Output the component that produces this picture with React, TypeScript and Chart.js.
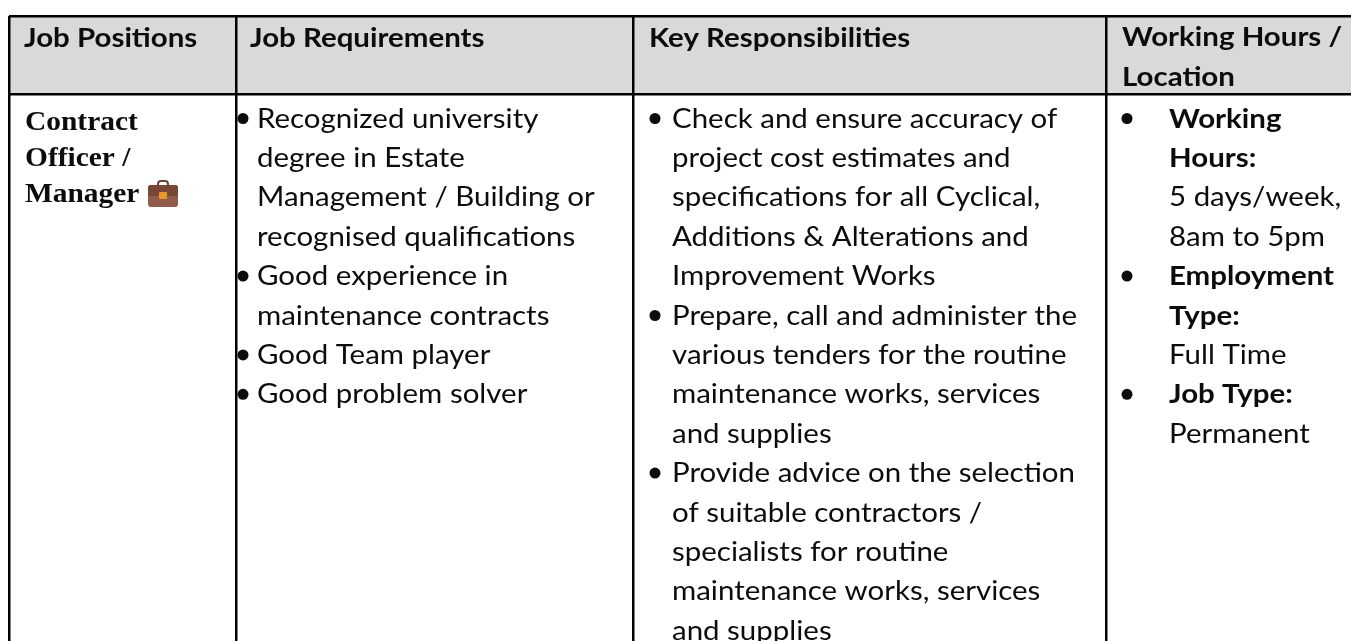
import React, { useEffect, useRef } from "react";
import { Chart, registerables } from "chart.js";

Chart.register(...registerables);

const headerCol1 = ["Job Positions"];
const headerCol2 = ["Job Requirements"];
const headerCol3 = ["Key Responsibilities"];
const headerCol4 = ["Working Hours /", "Location"];

const positions = ["Contract", "Officer /", "Manager"];
const requirements = [
  "Recognized university",
  "degree in Estate",
  "Management / Building or",
  "recognised qualifications",
  "Good experience in",
  "maintenance contracts",
  "Good Team player",
  "Good problem solver",
];
const requirementBullets = [0, 4, 6, 7];
const responsibilities = [
  "Check and ensure accuracy of",
  "project cost estimates and",
  "specifications for all Cyclical,",
  "Additions & Alterations and",
  "Improvement Works",
  "Prepare, call and administer the",
  "various tenders for the routine",
  "maintenance works, services",
  "and supplies",
  "Provide advice on the selection",
  "of suitable contractors /",
  "specialists for routine",
  "maintenance works, services",
  "and supplies",
];
const responsibilityBullets = [0, 5, 9];
const hours = [
  "Working",
  "Hours:",
  "5 days/week,",
  "8am to 5pm",
  "Employment",
  "Type:",
  "Full Time",
  "Job Type:",
  "Permanent",
];
const hoursBold = [0, 1, 4, 5, 7];
const hoursBullets = [0, 4, 7];

const columnEdges = [9, 236, 633, 1106];
const rowEdges = [16, 94.5];

const BODY_BASE = 127.5;
const PITCH = 39.4;
const SANS = "Lato, Carlito, sans-serif";
const SANS_STRETCH = 1.133;
const SERIF_STRETCH = 1.09;

const rowY = (i: number) => BODY_BASE + i * PITCH;

const bulletPoints = [
  ...requirementBullets.map((i) => ({ x: 243, y: rowY(i) - 9 })),
  ...responsibilityBullets.map((i) => ({ x: 655, y: rowY(i) - 9 })),
  ...hoursBullets.map((i) => ({ x: 1127, y: rowY(i) - 9 })),
];

const tablePlugin = {
  id: "tablePlugin",
  beforeDraw(chart: any) {
    const { ctx, scales } = chart;
    const x = scales.x;
    const y = scales.y;
    ctx.save();
    ctx.fillStyle = "#ffffff";
    ctx.fillRect(0, 0, chart.width, chart.height);
    ctx.fillStyle = "#d9d9d9";
    ctx.fillRect(
      x.getPixelForValue(columnEdges[0]),
      y.getPixelForValue(rowEdges[0]),
      x.getPixelForValue(1351) - x.getPixelForValue(columnEdges[0]),
      y.getPixelForValue(rowEdges[1]) - y.getPixelForValue(rowEdges[0]),
    );
    ctx.restore();
  },
  afterDatasetsDraw(chart: any) {
    const { ctx, scales } = chart;
    const x = scales.x;
    const y = scales.y;
    const put = (t: string, px: number, py: number, font: string, stretch: number) => {
      ctx.save();
      ctx.font = font;
      ctx.translate(x.getPixelForValue(px), y.getPixelForValue(py));
      ctx.scale(stretch, 1);
      ctx.fillText(t, 0, 0);
      ctx.restore();
    };
    ctx.save();
    ctx.fillStyle = "#0c0c0c";
    ctx.textBaseline = "alphabetic";
    ctx.textAlign = "left";
    const headFont = `bold 26px ${SANS}`;
    const bodyFont = `26px ${SANS}`;
    put(headerCol1[0], 24, 46.5, headFont, SANS_STRETCH);
    put(headerCol2[0], 250, 46.5, headFont, SANS_STRETCH);
    put(headerCol3[0], 649, 46.5, headFont, SANS_STRETCH);
    headerCol4.forEach((t, i) => put(t, 1122, 46 + i * 40, headFont, SANS_STRETCH));

    const serif = `bold 27px "Liberation Serif", serif`;
    positions.forEach((t, i) => put(t, 25, 130 + i * 36, serif, SERIF_STRETCH));

    requirements.forEach((t, i) => put(t, 257, rowY(i), bodyFont, SANS_STRETCH));
    responsibilities.forEach((t, i) => put(t, 672, rowY(i), bodyFont, SANS_STRETCH));
    hours.forEach((t, i) =>
      put(t, 1169, rowY(i), hoursBold.includes(i) ? headFont : bodyFont, SANS_STRETCH),
    );

    // briefcase icon after "Manager"
    const bx = x.getPixelForValue(148);
    const by = y.getPixelForValue(180);
    ctx.strokeStyle = "#6f4334";
    ctx.lineWidth = 2;
    ctx.beginPath();
    ctx.roundRect(bx + 10, by + 1, 10, 7, 3);
    ctx.stroke();
    ctx.fillStyle = "#915c49";
    ctx.beginPath();
    ctx.roundRect(bx, by + 5, 30, 22, 3);
    ctx.fill();
    ctx.fillStyle = "#764636";
    ctx.beginPath();
    ctx.roundRect(bx, by + 5, 30, 11, 3);
    ctx.fill();
    ctx.fillStyle = "#e8982f";
    ctx.beginPath();
    ctx.roundRect(bx + 11, by + 12, 8, 7, 1);
    ctx.fill();
    ctx.restore();
  },
};

export default function App() {
  const ref = useRef<HTMLCanvasElement>(null);
  useEffect(() => {
    const chart = new Chart(ref.current as HTMLCanvasElement, {
      type: "scatter",
      data: {
        datasets: [
          {
            data: bulletPoints,
            pointRadius: 5.5,
            pointBackgroundColor: "#0c0c0c",
            pointBorderWidth: 0,
            showLine: false,
          },
        ],
      },
      options: {
        animation: false,
        responsive: false,
        events: [],
        layout: { autoPadding: false, padding: { left: 9, top: 16, right: 0, bottom: 0 } },
        plugins: { legend: { display: false }, tooltip: { enabled: false } },
        scales: {
          x: {
            type: "linear",
            min: 9,
            max: 1351,
            border: { display: false },
            ticks: { display: false },
            afterBuildTicks: (s: any) => {
              s.ticks = columnEdges.map((value) => ({ value }));
            },
            grid: { color: "#000000", lineWidth: 2.5, drawTicks: false },
          },
          y: {
            type: "linear",
            reverse: true,
            min: 16,
            max: 641,
            border: { display: false },
            ticks: { display: false },
            afterBuildTicks: (s: any) => {
              s.ticks = rowEdges.map((value) => ({ value }));
            },
            grid: { color: "#000000", lineWidth: 2.5, drawTicks: false },
          },
        },
      },
      plugins: [tablePlugin],
    } as any);
    return () => chart.destroy();
  }, []);
  return (
    <div style={{ position: "absolute", left: 0, top: 0, width: 1351, height: 641, overflow: "hidden" }}>
      <canvas ref={ref} width={1351} height={641} style={{ display: "block" }} />
    </div>
  );
}
